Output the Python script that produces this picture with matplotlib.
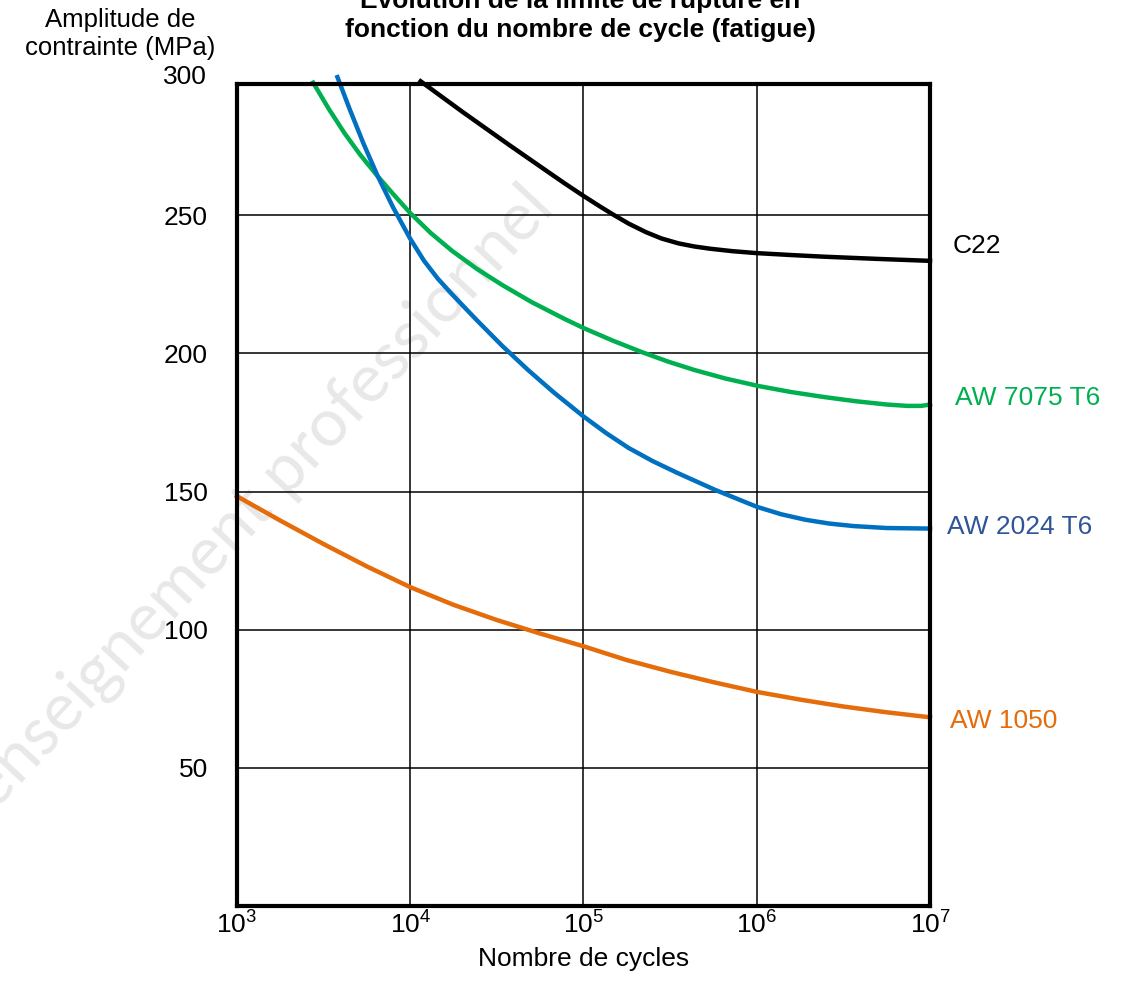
# S-N (Wöhler) curves for four materials
import numpy as np
import matplotlib.pyplot as plt
from matplotlib.transforms import blended_transform_factory

plt.rcParams['font.family'] = ['Liberation Sans', 'DejaVu Sans']
plt.rcParams['mathtext.fontset'] = 'custom'
plt.rcParams['mathtext.rm'] = 'Liberation Sans'
plt.rcParams['mathtext.it'] = 'Liberation Sans'

# Data: log10(number of cycles) and stress amplitude (MPa)
c22_logn = [4.06, 4.30, 4.57, 4.77, 4.89, 5.0, 5.10, 5.17, 5.26, 5.36, 5.45, 5.55, 5.64, 5.73, 5.86, 6.0, 6.2, 6.39, 6.7, 7.0]
c22_s = [298.5, 287.5, 275.5, 266.8, 261.6, 257, 253.0, 250.3, 247.0, 243.9, 241.6, 239.8, 238.7, 237.9, 237.0, 236.3, 235.6, 235.0, 234.2, 233.5]

aw7075_logn = [3.44, 3.53, 3.62, 3.71, 3.81, 3.90, 4.0, 4.12, 4.24, 4.38, 4.53, 4.70, 4.89, 5.0, 5.17, 5.34, 5.49, 5.64, 5.82, 6.01, 6.20, 6.39, 6.57, 6.75, 6.87, 6.95, 7.0]
aw7075_s = [298, 288.5, 279.8, 272, 264.3, 257.8, 250.8, 243.5, 237.2, 230.8, 224.8, 218.6, 212.5, 209.2, 204.6, 200.4, 197.0, 194.0, 190.9, 188.2, 186, 184.2, 182.7, 181.5, 181.0, 181.0, 181.5]

aw2024_logn = [3.58, 3.65, 3.73, 3.81, 3.90, 4.0, 4.08, 4.16, 4.24, 4.38, 4.53, 4.68, 4.83, 5.0, 5.13, 5.26, 5.40, 5.54, 5.76, 6.0, 6.14, 6.28, 6.42, 6.56, 6.75, 7.0]
aw2024_s = [300, 288.5, 276, 264.5, 253, 241.5, 233.5, 227, 221.5, 212.3, 202.8, 194, 185.8, 177.2, 171.2, 165.8, 161, 156.8, 150.6, 144.5, 141.8, 139.8, 138.4, 137.5, 136.8, 136.6]

aw1050_logn = [3.0, 3.25, 3.5, 3.75, 4.0, 4.25, 4.5, 4.75, 5.0, 5.25, 5.5, 5.75, 6.0, 6.25, 6.5, 6.75, 7.0]
aw1050_s = [148.3, 139.5, 131, 122.9, 115.4, 109, 103.5, 98.6, 94, 89, 84.8, 81, 77.5, 74.7, 72.2, 70.1, 68.3]

x_ticks = [1e3, 1e4, 1e5, 1e6, 1e7]
x_labels = ['10$^3$', '10$^4$', '10$^5$', '10$^6$', '10$^7$']
y_ticks = [50, 100, 150, 200, 250]

fig = plt.figure(figsize=(11.31, 9.98), dpi=100)
ax = fig.add_axes([0.2095, 0.0922, 0.6128, 0.8236])
ax.patch.set_alpha(0)

# watermark
fig.text(0.2317, 0.501, 'enseignement professionnel', rotation=47, fontsize=48,
         color='#e8e8e8', ha='center', va='center', rotation_mode='anchor',
         family='Lato', zorder=-1)

ax.plot(10 ** np.array(c22_logn), c22_s, color='black', lw=3.2, clip_on=False)
ax.plot(10 ** np.array(aw7075_logn), aw7075_s, color='#00b050', lw=3.2, clip_on=False)
ax.plot(10 ** np.array(aw2024_logn), aw2024_s, color='#0070c0', lw=3.2, clip_on=False)
ax.plot(10 ** np.array(aw1050_logn), aw1050_s, color='#e46c0a', lw=3.2, clip_on=False)

ax.set_xscale('log')
ax.set_xlim(1e3, 1e7)
ax.set_ylim(0, 297.5)
ax.set_xticks(x_ticks)
ax.set_xticklabels(x_labels)
ax.minorticks_off()
ax.set_yticks(y_ticks)
ax.tick_params(axis='both', length=0, labelsize=19)
ax.tick_params(axis='y', pad=21)
ax.tick_params(axis='x', pad=4)
ax.grid(True, color='black', lw=1.1)
for sp in ax.spines.values():
    sp.set_linewidth(3)
    sp.set_zorder(5)

trans = blended_transform_factory(ax.transAxes, ax.transData)
ax.text(-0.043, 300, '300', transform=trans, ha='right', va='center', fontsize=19)

# curve names on the right
ax.text(1.033, 239, 'C22', transform=trans, color='black', fontsize=19, va='center')
ax.text(1.036, 184, 'AW 7075 T6', transform=trans, color='#00b050', fontsize=19, va='center')
ax.text(1.0245, 137, 'AW 2024 T6', transform=trans, color='#2f5597', fontsize=19, va='center')
ax.text(1.029, 67, 'AW 1050', transform=trans, color='#e46c0a', fontsize=19, va='center')

ax.set_xlabel('Nombre de cycles', fontsize=19, labelpad=6)

fig.text(0.106, 0.973, 'Amplitude de', ha='center', va='baseline', fontsize=18.5)
fig.text(0.106, 0.945, 'contrainte (MPa)', ha='center', va='baseline', fontsize=18.5)
fig.text(0.513, 0.992, 'Evolution de la limite de rupture en', ha='center', va='baseline',
         fontsize=19, fontweight='bold')
fig.text(0.513, 0.963, 'fonction du nombre de cycle (fatigue)', ha='center', va='baseline',
         fontsize=19, fontweight='bold')

plt.savefig('out.png', dpi=100)
